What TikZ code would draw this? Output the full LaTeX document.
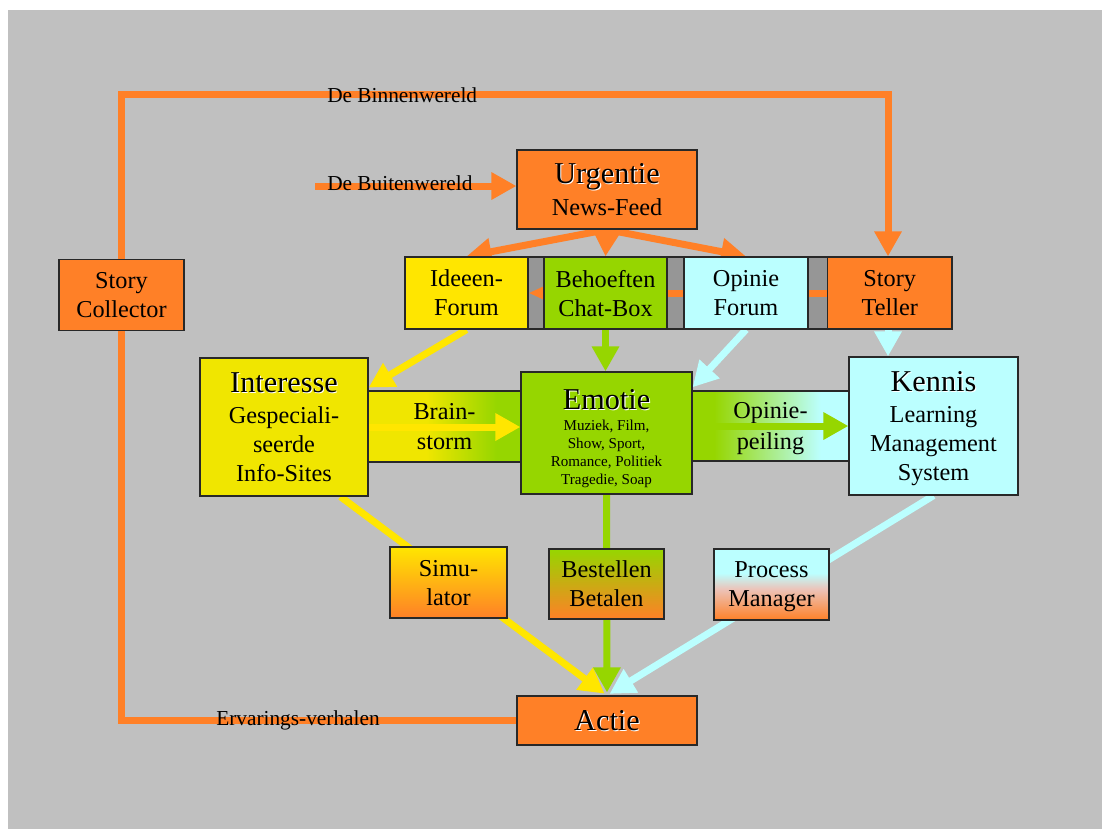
\documentclass[tikz,border=0pt]{standalone}
\usepackage{fontspec}
\setmainfont{Liberation Serif}
\usetikzlibrary{arrows.meta}

\definecolor{bgGray}{RGB}{192,192,192}
\definecolor{barGray}{RGB}{150,150,150}
\definecolor{org}{RGB}{255,128,39}
\definecolor{yel}{RGB}{255,230,0}
\definecolor{yelB}{RGB}{240,230,0}
\definecolor{grn}{RGB}{150,214,0}
\definecolor{cyn}{RGB}{187,255,255}
\definecolor{edge}{RGB}{40,40,40}
\definecolor{pinkmid}{RGB}{236,196,186}

% horizontal blends for the two linking bands, vertical blend for Process Manager
\pgfdeclarehorizontalshading{brainshade}{100bp}{color(0bp)=(yelB); color(44bp)=(yelB); color(67bp)=(grn); color(100bp)=(grn)}
\pgfdeclarehorizontalshading{peilshade}{100bp}{color(0bp)=(grn); color(32bp)=(grn); color(66bp)=(cyn); color(100bp)=(cyn)}
\pgfdeclareverticalshading{procshade}{100bp}{color(0bp)=(org); color(25bp)=(org); color(47bp)=(pinkmid); color(58bp)=(cyn); color(100bp)=(cyn)}

\newcommand\szTitle{\fontsize{22.7pt}{27pt}\selectfont}
\newcommand\szBody{\fontsize{18.2pt}{21.75pt}\selectfont}
\newcommand\szSmall{\fontsize{11.3pt}{13.7pt}\selectfont}
\newcommand\szLabel{\fontsize{16pt}{19pt}\selectfont}
\newcommand\titletext[1]{\leavevmode\rlap{\hspace{0.8pt}\raisebox{-0.8pt}{\color{white}#1}}#1}
\newcommand\pxu{0.75pt}

\pgfdeclarelayer{back}
\pgfdeclarelayer{lines}
\pgfsetlayers{back,lines,main}

\begin{document}
\begin{tikzpicture}[x=0.75pt, y=-0.75pt,
  box/.style={draw=edge, line width=0.9pt, inner sep=0pt, align=center, font=\szBody, text depth=0pt},
  txt/.style={inner sep=0pt, align=center, font=\szBody, text depth=0pt},
  lbl/.style={inner sep=0pt, font=\szLabel},
  conn/.style={line width=5.25pt, -{Triangle[length=18.75pt,width=19.5pt]}},
  thinconn/.style={line width=5.25pt, -{Triangle[length=11.25pt,width=9pt]}}]

\useasboundingbox (0,0) rectangle (1102,829);

\begin{pgfonlayer}{back}
  \fill[white] (0,0) rectangle (1102,829);
  \fill[bgGray] (8,10) rectangle (1102,829);
  % grey carrier strip behind the top row
  \node[draw=edge, line width=0.9pt, fill=barGray, inner sep=0pt,
        minimum width=547*\pxu, minimum height=72*\pxu] (strip) at (678.5,293) {};
  % linking bands
  \node[box, shade, shading=brainshade, minimum width=153*\pxu, minimum height=71*\pxu]
        (brain) at (444.5,426.5) {Brain-\\[1pt]storm};
  \node[box, shade, shading=peilshade, minimum width=157*\pxu, minimum height=70*\pxu]
        (peil) at (770.5,426) {Opinie-\\[1.5pt]peiling};
\end{pgfonlayer}

% boxes
\node[box, fill=org, minimum width=180*\pxu, minimum height=79*\pxu] (urg) at (607,189.5)
  {\szTitle\titletext{Urgentie}\\[2.5pt]News-Feed};
\node[box, fill=org, minimum width=125*\pxu, minimum height=71*\pxu] (coll) at (121.5,295)
  {Story\\Collector};
\node[box, fill=yel, minimum width=123*\pxu, minimum height=72*\pxu] (idee) at (466.5,293)
  {Ideeen-\\Forum};
\node[box, fill=grn, minimum width=123*\pxu, minimum height=72*\pxu] (behoef) at (605.5,293)
  {Behoeften\\Chat-Box};
\node[box, fill=cyn, minimum width=124*\pxu, minimum height=72*\pxu] (opin) at (746,293)
  {Opinie\\Forum};
\node[box, fill=org, minimum width=124.5*\pxu, minimum height=72*\pxu] (teller) at (889.75,293)
  {Story\\Teller};
\node[box, fill=yelB, minimum width=168*\pxu, minimum height=138*\pxu] (inter) at (284,427)
  {\szTitle\titletext{Interesse}\\[1.5pt]Gespeciali-\\seerde\\Info-Sites};
\node[box, fill=grn, minimum width=171*\pxu, minimum height=122*\pxu] (emot) at (606.5,433) {};
\node[txt] (emotxt) at (606.5,437)
  {\szTitle\titletext{Emotie}\\[-6pt]\szSmall Muziek, Film,\\[-8.05pt]\szSmall Show, Sport,\\[-8.05pt]
   \szSmall Romance, Politiek\\[-8.05pt]\szSmall Tragedie, Soap};
\node[box, fill=cyn, minimum width=169*\pxu, minimum height=138*\pxu] (kennis) at (933.5,426)
  {\szTitle\titletext{Kennis}\\[1.5pt]Learning\\Management\\System};
\node[box, top color=yel, bottom color=org, minimum width=117*\pxu, minimum height=71*\pxu] (sim) at (448.5,582.5)
  {Simu-\\lator};
\node[box, top color=grn, bottom color=org, minimum width=115*\pxu, minimum height=70*\pxu] (best) at (606.5,584)
  {Bestellen\\Betalen};
\node[box, shade, shading=procshade, minimum width=115*\pxu, minimum height=71*\pxu] (proc) at (771.5,584.5)
  {Process\\Manager};
\node[box, fill=org, minimum width=180*\pxu, minimum height=49*\pxu] (actie) at (607,720.5)
  {\szTitle\titletext{Actie}};

% free labels on the loop lines
\node[lbl, anchor=base west] (binnen) at (327,102) {De Binnenwereld};
\node[lbl, anchor=base west] (buitenlbl) at (327,190) {De Buitenwereld};
\node[lbl, anchor=base west] (ervar) at (216,725.5) {Ervarings-verhalen};

% corner points of the outer loop and the free start of the input arrow
\coordinate (loopBL) at (121,720.5);
\coordinate (loopTL) at (121,94);
\coordinate (loopTR) at (888,94);
\coordinate (buiten) at (315,186);

\begin{pgfonlayer}{lines}
  % outer feedback loop: Actie back to Story Teller
  \draw[conn, org] (actie.west) -- (loopBL) -- (loopTL) -- (loopTR) -- (loopTR |- teller.north);
  \draw[conn, org] (buiten) -- (buiten -| urg.west);
  % Urgentie fans out
  \draw[conn, org] (urg.south) -- (idee.north);
  \draw[conn, org] (urg.south) -- (behoef.north);
  \draw[conn, org] (urg.south) -- (opin.north);
  % along the grey strip
  \draw[thinconn, org] (teller.west) -- (idee.east);
  % top row to middle row
  \draw[conn, yel] (idee.south) -- (inter.25);
  \draw[conn, grn] (behoef.south) -- (behoef.south |- emot.north);
  \draw[conn, cyn] (opin.south) -- (emot.28);
  \draw[conn, cyn] (teller.south -| loopTR) -- (loopTR |- kennis.north);
  % through the bands
  \draw[conn, yel] (inter.east) -- (inter.east -| emot.west);
  \draw[conn, grn] (kennis.west -| emot.east) -- (kennis.west);
  % into Actie
  \draw[conn, yel, shorten >=2.25pt] (inter.-51) -- (actie.north);
  \draw[conn, grn, shorten >=2.25pt] (emot.south) -- (actie.north);
  \draw[conn, cyn, shorten >=2.25pt] (kennis.south) -- (actie.north);
\end{pgfonlayer}

\end{tikzpicture}
\end{document}
